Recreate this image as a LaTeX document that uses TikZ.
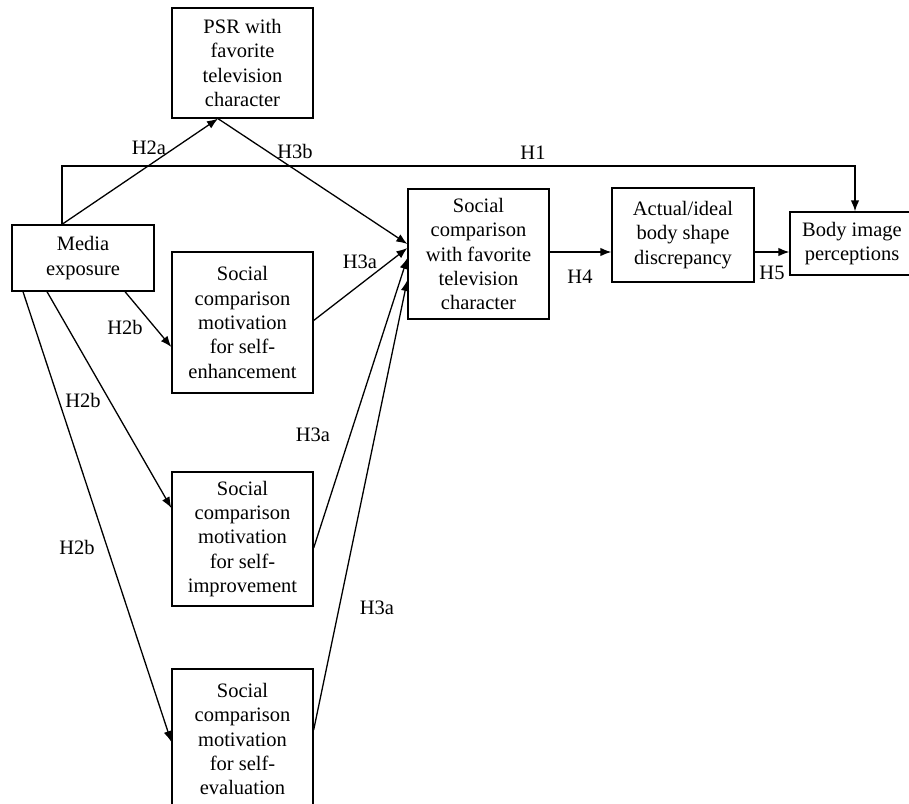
\documentclass[tikz,border=0pt]{standalone}
\usepackage{fontspec}
\setmainfont{Liberation Serif}
\usetikzlibrary{arrows.meta}

\begin{document}
\begin{tikzpicture}[x=1pt,y=1pt,
	box/.style={draw=black, line width=1.3pt, align=center, inner sep=0pt,
		font=\fontsize{20.5}{24.3}\selectfont},
	arr/.style={draw=black, line width=1.3pt, -{Latex[length=11pt,width=8.5pt]}},
	lab/.style={inner sep=0pt, font=\fontsize{20.5}{24.3}\selectfont}]
	\useasboundingbox (0,0) rectangle (909,-803);
	% boxes
	\node[box, minimum width=141pt, minimum height=110pt] (psr) at (242.5,-63) {PSR with\\favorite\\television\\character};
	\node[box, minimum width=142pt, minimum height=66pt] (media) at (83,-258) {Media\\exposure};
	\node[box, minimum width=141pt, minimum height=141pt] (enh) at (242.5,-322.5) {Social\\comparison\\motivation\\for self-\\enhancement};
	\node[box, minimum width=141pt, minimum height=134pt] (imp) at (242.5,-539) {Social\\comparison\\motivation\\for self-\\improvement};
	\node[box, minimum width=141pt, minimum height=140pt] (eva) at (242.5,-739) {Social\\comparison\\motivation\\for self-\\evaluation};
	\node[box, minimum width=141pt, minimum height=130pt] (soc) at (478.5,-254) {Social\\comparison\\with favorite\\television\\character};
	\node[box, minimum width=142pt, minimum height=94pt] (act) at (683,-235) {Actual/ideal\\body shape\\discrepancy};
	\node[box, minimum width=124pt, minimum height=63pt] (body) at (852,-243.5) {Body image\\perceptions};
	% paths
	\coordinate (hone) at (855,-166);
	\draw[arr] ([xshift=-21pt]media.north) |- (hone) -- (hone |- body.north);
	\draw[arr] ([xshift=-21pt]media.north) -- ([xshift=-24.5pt]psr.south);
	\draw[arr] ([xshift=-24.5pt]psr.south) -- ([yshift=10pt]soc.west);
	\draw[arr] ([yshift=2pt]enh.east) -- ([yshift=6pt]soc.west);
	\draw[arr] ([yshift=-9pt]imp.east) -- ([yshift=-4pt]soc.west);
	\draw[arr] ([yshift=9pt]eva.east) -- ([yshift=-26pt]soc.west);
	\draw[arr] ([xshift=42pt]media.south) -- ([yshift=-24.5pt]enh.west);
	\draw[arr] ([xshift=-36pt]media.south) -- ([yshift=31pt]imp.west);
	\draw[arr] ([xshift=-60pt]media.south) -- ([yshift=-3pt]eva.west);
	\draw[arr] ([yshift=2pt]soc.east) coordinate (hfour) -- (hfour -| act.west);
	\draw[arr] ([yshift=-17pt]act.east) coordinate (hfive) -- (hfive -| body.west);
	% labels
	\node[lab] (lhone) at (533,-153) {H1};
	\node[lab] (lhtwoa) at (149,-148) {H2a};
	\node[lab] (lhthreeb) at (295,-151) {H3b};
	\node[lab] (lhthreea) at (360,-262) {H3a};
	\node[lab] (lhtwob) at (125,-327) {H2b};
	\node[lab] (lhtwobb) at (83,-400) {H2b};
	\node[lab] (lhthreeaa) at (313,-435) {H3a};
	\node[lab] (lhtwobbb) at (77,-547) {H2b};
	\node[lab] (lhthreeaaa) at (377,-608) {H3a};
	\node[lab] (lhfour) at (580,-277) {H4};
	\node[lab] (lhfive) at (772,-273) {H5};
\end{tikzpicture}
\end{document}
